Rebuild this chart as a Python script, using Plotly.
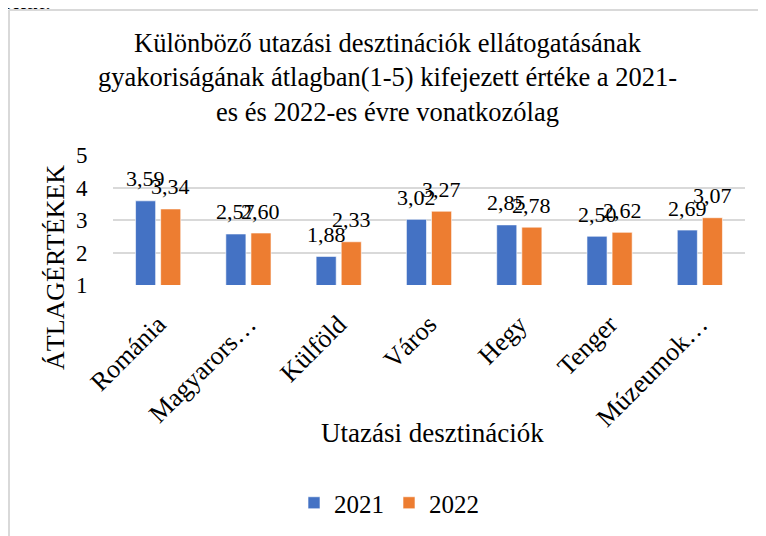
import plotly.graph_objects as go

categories = ["Románia", "Magyarors…", "Külföld", "Város", "Hegy", "Tenger", "Múzeumok…"]
values_2021 = [3.59, 2.57, 1.88, 3.02, 2.85, 2.50, 2.69]
values_2022 = [3.34, 2.60, 2.33, 3.27, 2.78, 2.62, 3.07]
series_names = ["2021", "2022"]
colors = ["#4472C4", "#ED7D31"]

# page has an 8px body margin; work in page pixels and convert
OFF = 8
W, H = 766 - OFF, 536 - OFF
PL, PR, PT, PB = 113, 745, 155, 285  # plot area in page pixels
L, T = PL - OFF, PT - OFF
R, B = W - (PR - OFF), H - (PB - OFF)
pw, ph = PR - PL, PB - PT


def px(x):
    return (x - PL) / pw


def py(y):
    return (PB - y) / ph


FONT = "Liberation Serif"

fig = go.Figure()
for name, vals, col in zip(series_names, [values_2021, values_2022], colors):
    fig.add_trace(go.Bar(
        x=categories, y=vals, name=name,
        marker=dict(color=col, line=dict(color="rgba(255,255,255,0.6)", width=1)),
    ))

annotations = []
for vals, shift in [(values_2021, -12.5), (values_2022, 12.5)]:
    for c, v in zip(categories, vals):
        annotations.append(dict(
            x=c, y=v, xref="x", yref="y", text=f"{v:.2f}".replace(".", ","),
            showarrow=False, xshift=shift, yshift=22, yanchor="middle",
            font=dict(family=FONT, size=22, color="black"),
        ))

annotations += [
    dict(x=px(432), y=py(433), xref="paper", yref="paper", text="Utazási desztinációk",
         showarrow=False, xanchor="center", yanchor="middle",
         font=dict(family=FONT, size=27, color="black")),
    dict(x=px(55), y=py(268), xref="paper", yref="paper", text="ÁTLAGÉRTÉKEK",
         showarrow=False, textangle=-90, xanchor="center", yanchor="middle",
         font=dict(family=FONT, size=26, color="black")),
    dict(x=px(-2), y=py(17), xref="paper", yref="paper", text="okat.",
         showarrow=False, xanchor="left", yanchor="bottom",
         font=dict(family=FONT, size=26, color="black")),
]

fig.update_layout(
    width=W, height=H,
    margin=dict(l=L, r=R, t=T, b=B, autoexpand=False),
    paper_bgcolor="white", plot_bgcolor="white",
    barmode="group", bargap=0.444, bargroupgap=0.2,
    title=dict(
        text="Különböző utazási desztinációk ellátogatásának<br>gyakoriságának átlagban(1-5) kifejezett értéke a 2021-<br>es és 2022-es évre vonatkozólag",
        x=0.5 + 0.5 / W, xanchor="center", y=1 - 44 / H, yanchor="top",
        xref="container", yref="container",
        font=dict(family=FONT, size=26.5, color="black"),
    ),
    xaxis=dict(
        tickangle=-45, tickfont=dict(family=FONT, size=26, color="black"),
        showgrid=False, showline=False, ticks="", ticklabelstandoff=18,
    ),
    yaxis=dict(
        range=[1, 5], dtick=1, tickfont=dict(family=FONT, size=23, color="black"),
        showgrid=True, gridcolor="#D9D9D9", gridwidth=1.5, zeroline=False,
        showline=False, ticks="outside", ticklen=20, tickcolor="rgba(0,0,0,0)",
    ),
    legend=dict(
        orientation="h", x=px(389), y=py(503), xanchor="center", yanchor="middle",
        font=dict(family=FONT, size=25, color="black"), itemwidth=30,
    ),
    annotations=annotations,
    shapes=[
        dict(type="line", xref="paper", yref="paper",
             x0=px(9), x1=px(9), y0=py(10), y1=py(545),
             line=dict(color="#D9D9D9", width=2), layer="above"),
        dict(type="line", xref="paper", yref="paper",
             x0=px(9), x1=px(775), y0=py(10), y1=py(10),
             line=dict(color="#D9D9D9", width=2), layer="above"),
    ],
)

fig.write_html("out.html")
